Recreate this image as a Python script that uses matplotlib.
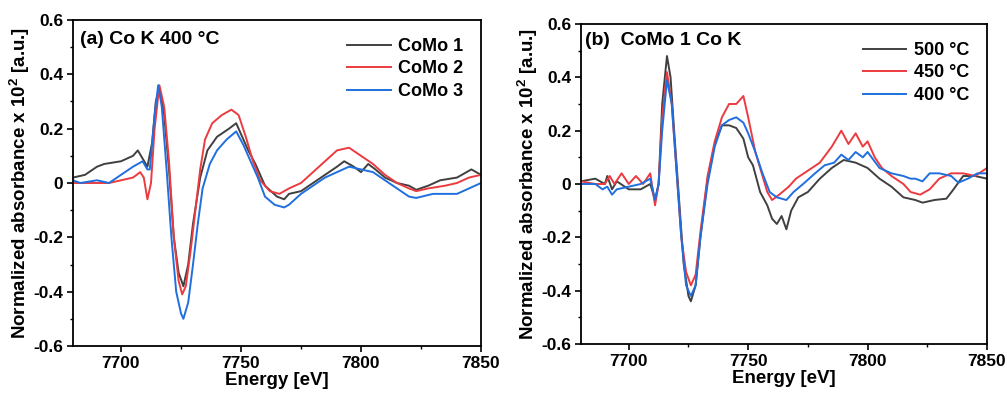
import matplotlib
matplotlib.use('Agg')
import matplotlib.pyplot as plt
import numpy as np
from matplotlib.ticker import MultipleLocator

plt.rcParams['font.family'] = ['Liberation Sans', 'DejaVu Sans']
plt.rcParams['font.weight'] = 'bold'
plt.rcParams['axes.labelweight'] = 'bold'
plt.rcParams['mathtext.default'] = 'regular'

# Panel (a): Co K edge at 400 °C, three catalysts
e_como1 = [7680, 7685, 7690, 7693, 7700, 7705, 7707, 7709, 7711, 7713, 7714.5, 7716, 7718, 7720,
           7722, 7724, 7726, 7728, 7730, 7733, 7736, 7740, 7745, 7748, 7750, 7753, 7756, 7760,
           7765, 7768, 7770, 7775, 7780, 7785, 7790, 7793, 7797, 7800, 7803, 7806, 7810, 7815,
           7820, 7823, 7828, 7833, 7840, 7846, 7850]
a_como1 = [0.02, 0.03, 0.06, 0.07, 0.08, 0.10, 0.12, 0.09, 0.06, 0.15, 0.30, 0.35, 0.25, 0.05,
           -0.20, -0.33, -0.38, -0.30, -0.15, 0.02, 0.12, 0.17, 0.20, 0.22, 0.18, 0.12, 0.07, -0.01,
           -0.05, -0.06, -0.04, -0.03, 0.0, 0.03, 0.06, 0.08, 0.06, 0.04, 0.07, 0.05, 0.02, 0.0,
           -0.01, -0.025, -0.01, 0.01, 0.02, 0.05, 0.03]

e_como2 = [7680, 7690, 7695, 7700, 7705, 7708, 7709.5, 7711, 7712.5, 7714, 7716, 7718, 7720,
           7722, 7724, 7725.5, 7727, 7729, 7731, 7733, 7735, 7738, 7742, 7746, 7749, 7752, 7755,
           7758, 7762, 7766, 7770, 7775, 7780, 7785, 7790, 7795, 7800, 7805, 7810, 7815, 7820,
           7823, 7828, 7835, 7840, 7845, 7850]
a_como2 = [0.0, 0.0, 0.0, 0.01, 0.02, 0.04, 0.02, -0.06, 0.0, 0.20, 0.36, 0.28, 0.08,
           -0.20, -0.36, -0.41, -0.38, -0.25, -0.10, 0.05, 0.16, 0.22, 0.25, 0.27, 0.25, 0.17, 0.08,
           0.01, -0.03, -0.04, -0.02, 0.0, 0.04, 0.08, 0.12, 0.13, 0.10, 0.07, 0.03, 0.0, -0.02,
           -0.03, -0.02, -0.01, 0.0, 0.02, 0.03]

e_como3 = [7680, 7683, 7690, 7695, 7700, 7705, 7709, 7711, 7712, 7714, 7715.5, 7717, 7719, 7721,
           7723, 7725, 7726, 7728, 7730, 7732, 7734, 7737, 7740, 7744, 7748, 7751, 7754, 7757,
           7760, 7764, 7768, 7770, 7775, 7780, 7785, 7790, 7795, 7800, 7805, 7810, 7815, 7820,
           7823, 7830, 7835, 7840, 7845, 7850]
a_como3 = [0.01, 0.0, 0.01, 0.0, 0.03, 0.06, 0.08, 0.05, 0.05, 0.25, 0.36, 0.28, 0.05, -0.20,
           -0.40, -0.48, -0.50, -0.44, -0.30, -0.15, -0.02, 0.07, 0.12, 0.16, 0.19, 0.14, 0.08, 0.02,
           -0.05, -0.08, -0.09, -0.08, -0.04, -0.01, 0.02, 0.04, 0.06, 0.05, 0.04, 0.01, -0.02, -0.05,
           -0.055, -0.04, -0.04, -0.04, -0.02, 0.0]

# Panel (b): CoMo 1 at three temperatures
e_500 = [7680, 7686, 7690, 7691, 7693, 7695, 7700, 7705, 7709, 7711, 7712.5, 7714, 7716, 7717.5,
         7719, 7721, 7723, 7725, 7726, 7728, 7730, 7733, 7736, 7739, 7742, 7745, 7748, 7750, 7752,
         7755, 7758, 7760, 7762, 7764, 7766, 7768, 7771, 7775, 7780, 7785, 7790, 7795, 7800, 7805,
         7810, 7815, 7820, 7823, 7828, 7833, 7836, 7840, 7845, 7850]
b_500 = [0.01, 0.02, 0.0, 0.03, -0.02, 0.01, -0.02, -0.02, 0.0, -0.06, 0.0, 0.30, 0.48, 0.40,
         0.20, -0.05, -0.30, -0.42, -0.44, -0.38, -0.20, 0.02, 0.15, 0.22, 0.22, 0.21, 0.17, 0.10, 0.07,
         -0.03, -0.08, -0.13, -0.15, -0.12, -0.17, -0.10, -0.05, -0.03, 0.02, 0.06, 0.09, 0.08, 0.06, 0.02,
         -0.01, -0.05, -0.06, -0.07, -0.06, -0.055, -0.02, 0.03, 0.03, 0.02]

e_450 = [7680, 7686, 7690, 7692, 7694, 7697, 7700, 7703, 7706, 7709, 7711, 7712.5, 7714, 7716,
         7718, 7720, 7722, 7724, 7726, 7728, 7730, 7733, 7736, 7739, 7742, 7745, 7748, 7750, 7753,
         7756, 7758, 7760, 7763, 7767, 7770, 7775, 7780, 7785, 7789, 7792, 7795, 7798, 7800, 7803,
         7806, 7810, 7815, 7818, 7822, 7826, 7830, 7835, 7840, 7845, 7850]
b_450 = [0.01, 0.0, 0.0, 0.03, 0.0, 0.04, 0.0, 0.03, 0.0, 0.04, -0.08, 0.0, 0.25, 0.42,
         0.30, 0.05, -0.20, -0.33, -0.38, -0.34, -0.18, 0.03, 0.16, 0.25, 0.30, 0.30, 0.33, 0.25, 0.12,
         0.03, -0.03, -0.06, -0.04, -0.01, 0.02, 0.05, 0.08, 0.14, 0.20, 0.15, 0.19, 0.14, 0.16, 0.10,
         0.06, 0.03, 0.0, -0.03, -0.04, -0.02, 0.02, 0.04, 0.04, 0.03, 0.06]

e_400 = [7680, 7686, 7689, 7691, 7693, 7695, 7700, 7705, 7709, 7711, 7712.5, 7714, 7716, 7718,
         7720, 7722, 7724, 7726, 7728, 7730, 7733, 7736, 7739, 7742, 7745, 7748, 7750, 7753, 7756,
         7759, 7762, 7766, 7769, 7773, 7778, 7782, 7786, 7789, 7792, 7795, 7798, 7800, 7805, 7810,
         7815, 7818, 7820, 7823, 7826, 7830, 7835, 7838, 7842, 7846, 7850]
b_400 = [0.0, 0.0, -0.02, -0.01, -0.04, -0.02, -0.01, 0.0, 0.02, -0.06, 0.0, 0.20, 0.39, 0.30,
         0.05, -0.20, -0.38, -0.42, -0.38, -0.20, 0.0, 0.14, 0.22, 0.24, 0.25, 0.23, 0.19, 0.12, 0.04,
         -0.03, -0.05, -0.06, -0.03, 0.0, 0.04, 0.07, 0.08, 0.11, 0.09, 0.12, 0.10, 0.12, 0.06, 0.04,
         0.03, 0.02, 0.02, 0.01, 0.04, 0.04, 0.03, 0.005, 0.02, 0.04, 0.04]

x_ticks = [7700, 7750, 7800, 7850]
x_labels = ['7700', '7750', '7800', '7850']
y_ticks = [-0.6, -0.4, -0.2, 0.0, 0.2, 0.4, 0.6]
y_labels = ['-0.6', '-0.4', '-0.2', '0', '0.2', '0.4', '0.6']

c_black = '#404040'
c_red = '#ec3b40'
c_blue = '#1f6fdf'

fig = plt.figure(figsize=(10.07, 3.99), dpi=100)
ax1 = fig.add_axes([73 / 1007, 1 - 346 / 399, 408 / 1007, 326 / 399])
ax2 = fig.add_axes([581 / 1007, 1 - 344 / 399, 406 / 1007, 320 / 399])

ax1.plot(e_como1, a_como1, color=c_black, lw=1.4, label='CoMo 1')
ax1.plot(e_como2, a_como2, color=c_red, lw=1.4, label='CoMo 2')
ax1.plot(e_como3, a_como3, color=c_blue, lw=1.4, label='CoMo 3')
ax1.text(0.017, 0.965, '(a) Co K 400 °C', transform=ax1.transAxes, fontsize=14,
         fontweight='bold', va='top', ha='left')

ax2.plot(e_500, b_500, color=c_black, lw=1.4, label='500 °C')
ax2.plot(e_450, b_450, color=c_red, lw=1.4, label='450 °C')
ax2.plot(e_400, b_400, color=c_blue, lw=1.4, label='400 °C')
ax2.text(0.01, 0.975, '(b)  CoMo 1 Co K', transform=ax2.transAxes, fontsize=14,
         fontweight='bold', va='top', ha='left')

for ax in (ax1, ax2):
    ax.set_xlim(7680, 7850)
    ax.set_ylim(-0.6, 0.6)
    ax.set_xticks(x_ticks)
    ax.set_xticklabels(x_labels, fontweight='bold', fontsize=12.5)
    ax.set_yticks(y_ticks)
    ax.set_yticklabels(y_labels, fontweight='bold', fontsize=12.5)
    ax.xaxis.set_minor_locator(MultipleLocator(25))
    ax.yaxis.set_minor_locator(MultipleLocator(0.1))
    ax.tick_params(which='major', direction='out', length=4, width=1.2, pad=3)
    ax.tick_params(which='minor', direction='out', length=2.5, width=1)
    for s in ax.spines.values():
        s.set_linewidth(1.3)
    ax.set_xlabel('Energy [eV]', fontsize=13.5, fontweight='bold', labelpad=1)
    ax.set_ylabel('Normalized absorbance x 10$^2$ [a.u.]', fontsize=13.5, fontweight='bold', labelpad=1)
    leg = ax.legend(loc='upper right', frameon=False, fontsize=13, handlelength=2.4,
                    handletextpad=0.4, labelspacing=0.3, borderaxespad=0.6)
    for t in leg.get_texts():
        t.set_fontweight('bold')

fig.savefig('out.png', dpi=100)
